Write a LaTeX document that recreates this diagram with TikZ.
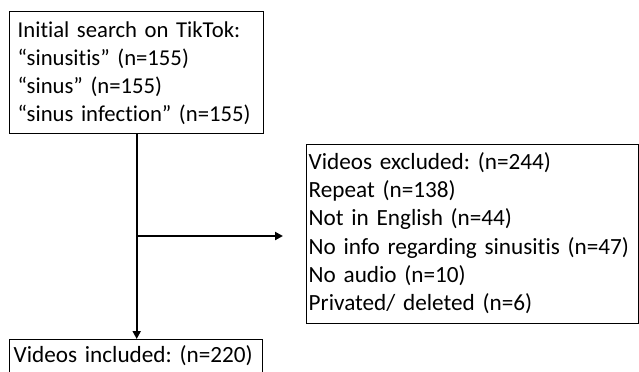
\documentclass[tikz,border=0pt]{standalone}
\usepackage{fontspec}
\setmainfont{Carlito}[Ligatures=NoCommon]
\usetikzlibrary{arrows.meta}
\frenchspacing
\begin{document}
\begin{tikzpicture}[x=1bp,y=-1bp,
  box/.style={draw=black, line width=1.4bp, anchor=north west, align=left,
    inner ysep=0pt},
  conn/.style={line width=2bp, -{Triangle[length=8bp,width=8bp]}}]
  \useasboundingbox (0,0) rectangle (639,371);
  \clip (0,0) rectangle (639,371);

  % search terms
  \node[box, inner xsep=8bp, text width=238bp, text height=26bp, text depth=96bp,
        font=\fontsize{22.7bp}{27.8bp}\selectfont] (search) at (9,11)
    {Initial search on TikTok:\\“sinusitis” (n=155)\\“sinus” (n=155)\\“sinus infection” (n=155)};

  % exclusions
  \node[box, inner xsep=2bp, text width=328bp, text height=24.5bp, text depth=154.5bp,
        font=\fontsize{23.2bp}{28.35bp}\selectfont] (excl) at (306,144)
    {Videos excluded: (n=244)\\Repeat (n=138)\\Not in English (n=44)\\No info regarding sinusitis (n=47)\\No audio (n=10)\\Privated/ deleted (n=6)};

  % final set
  \node[box, inner xsep=4bp, text width=245bp, text height=23bp, text depth=14bp,
        font=\fontsize{23.2bp}{28bp}\selectfont] (incl) at (9,339)
    {Videos included: (n=220)};

  % connectors
  \coordinate (lvl) at (0,236);
  \coordinate (branch) at (search.south |- lvl);
  \coordinate (exclend) at (283,236);
  \draw[conn] (search.south) -- (search.south |- incl.north);
  \draw[conn] (branch) -- (exclend);
\end{tikzpicture}
\end{document}
